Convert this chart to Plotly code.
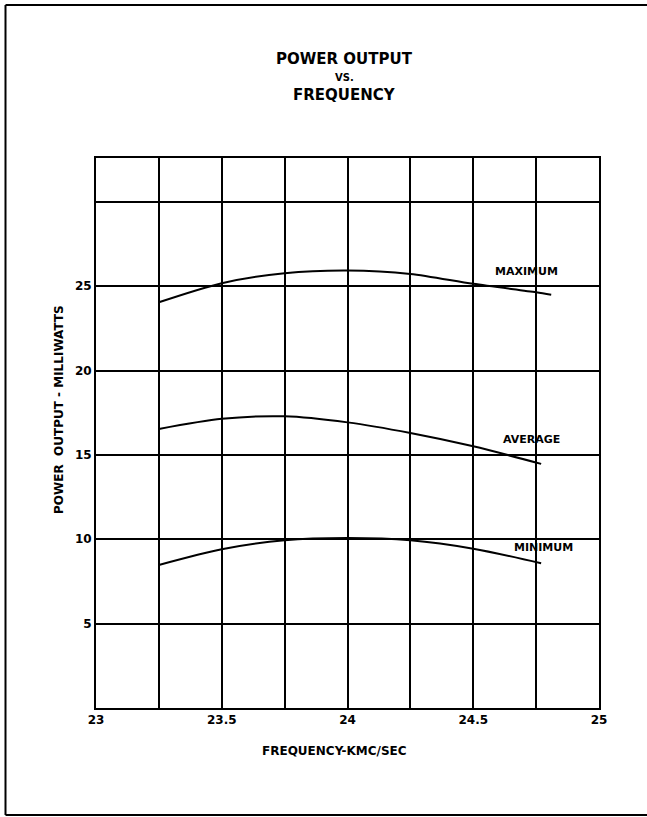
import plotly.graph_objects as go

# ---- data ----
freq_max = [23.25, 23.5, 23.75, 24.0, 24.25, 24.5, 24.75, 24.81]
power_max = [24.05, 25.18, 25.77, 25.93, 25.73, 25.14, 24.64, 24.5]

freq_avg = [23.25, 23.5, 23.75, 24.0, 24.25, 24.5, 24.77]
power_avg = [16.54, 17.14, 17.29, 16.93, 16.3, 15.51, 14.47]

freq_min = [23.25, 23.5, 23.75, 24.0, 24.25, 24.5, 24.77]
power_min = [8.48, 9.41, 9.94, 10.07, 9.94, 9.44, 8.58]

x_tick_vals = [23, 23.25, 23.5, 23.75, 24, 24.25, 24.5, 24.75, 25]
x_tick_text = ["23", "", "23.5", "", "24", "", "24.5", "", "25"]
y_tick_vals = [0, 5, 10, 15, 20, 25, 30]
y_tick_text = ["", "5", "10", "15", "20", "25", ""]

series_labels = ["MAXIMUM", "AVERAGE", "MINIMUM"]
label_x = [24.71, 24.73, 24.78]
label_y = [25.9, 15.9, 9.5]

FONT = "DejaVu Sans"
W, H = 647, 817
L, R, T, B = 96, 48, 158, 109

fig = go.Figure()
for fx, py in [(freq_max, power_max), (freq_avg, power_avg), (freq_min, power_min)]:
    fig.add_trace(go.Scatter(x=fx, y=py, mode="lines",
                             line=dict(color="black", width=2, shape="spline", smoothing=0.8),
                             showlegend=False, hoverinfo="skip"))

for t, xx, yy in zip(series_labels, label_x, label_y):
    fig.add_annotation(x=xx, y=yy, text="<b>" + t + "</b>", showarrow=False,
                       xanchor="center", yanchor="middle",
                       font=dict(family=FONT, size=11, color="black"))

pw = W - L - R
ph = H - T - B
def px_x(x):
    return (x - L) / pw
def px_y(y):
    return (H - B - y) / ph

def paper_text(x, y, text, size, angle=0):
    fig.add_annotation(xref="paper", yref="paper", x=px_x(x), y=px_y(y), text="<b>" + text + "</b>",
                       showarrow=False, xanchor="center", yanchor="middle", textangle=angle,
                       font=dict(family=FONT, size=size, color="black"))

# titles
paper_text(344, 59, "POWER OUTPUT", 15)
paper_text(344, 77, "VS.", 10)
paper_text(344, 95, "FREQUENCY", 15)
paper_text(334, 751, "FREQUENCY-KMC/SEC", 12)
paper_text(59, 410, "POWER  OUTPUT - MILLIWATTS", 12, -90)

# outer frame: top, left and bottom edges of the scanned page
frame_line = dict(color="black", width=2)
for (xa, ya, xb, yb) in [(5.5, 5, 647, 5), (5.5, 5, 5.5, 815), (5.5, 815, 647, 815)]:
    fig.add_shape(type="line", xref="paper", yref="paper",
                  x0=px_x(xa), y0=px_y(ya), x1=px_x(xb), y1=px_y(yb),
                  line=frame_line, layer="below")

axis_common = dict(showgrid=True, gridcolor="black", gridwidth=2, showline=True, linecolor="black",
                   linewidth=2, mirror=True, zeroline=False, ticks="",
                   tickfont=dict(family=FONT, size=12, color="black", weight="bold"))
fig.update_xaxes(range=[23, 25], tickmode="array", tickvals=x_tick_vals, ticktext=x_tick_text, **axis_common)
fig.update_yaxes(range=[0, 32.6], tickmode="array", tickvals=y_tick_vals, ticktext=y_tick_text, **axis_common)

fig.update_layout(width=W, height=H, margin=dict(l=L, r=R, t=T, b=B, autoexpand=False),
                  paper_bgcolor="white", plot_bgcolor="white",
                  font=dict(family=FONT, color="black"))

fig.write_html("out.html", config={"displayModeBar": False},
               post_script="document.body.style.margin='0';")
